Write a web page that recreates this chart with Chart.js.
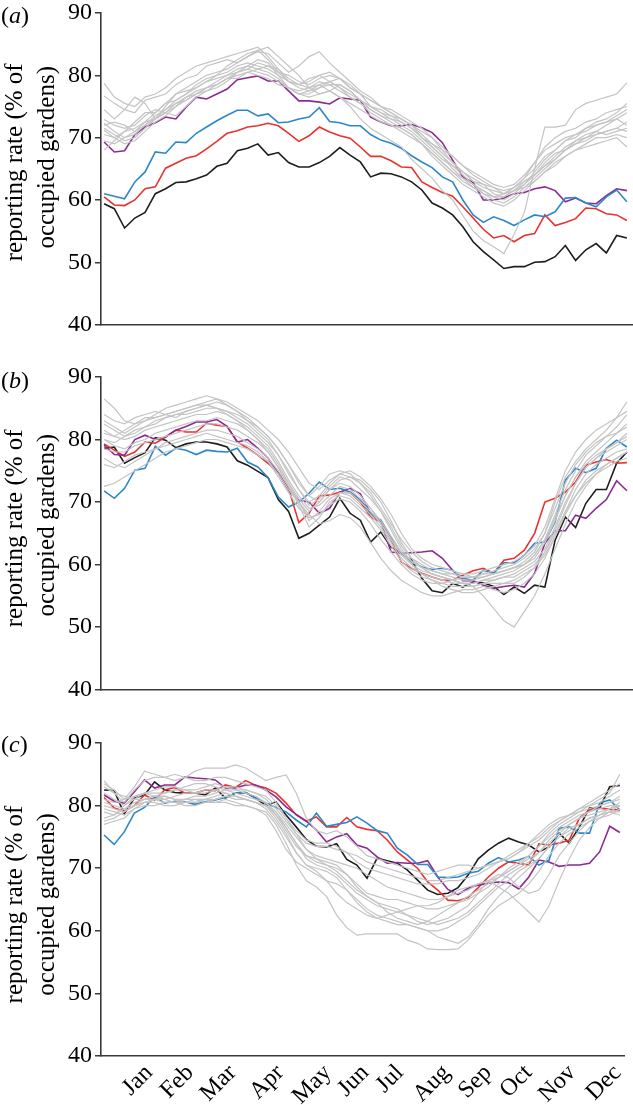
<!DOCTYPE html>
<html><head><meta charset="utf-8">
<script src="https://cdn.jsdelivr.net/npm/chart.js@4.4.1/dist/chart.umd.min.js"></script>
<style>
html,body{margin:0;padding:0;background:#fff;width:633px;height:1105px;overflow:hidden;position:relative}
canvas{position:absolute;left:0}
.lab{position:absolute;left:1px;font-family:'Liberation Serif',serif;font-size:24px;line-height:24px;color:#000}
</style></head><body>
<canvas id="ca" width="633" height="349" style="top:-7px"></canvas>
<canvas id="cb" width="633" height="350" style="top:357px"></canvas>
<canvas id="cc" width="633" height="382" style="top:723px"></canvas>
<div class="lab" style="top:3px">(<i>a</i>)</div>
<div class="lab" style="top:368px">(<i>b</i>)</div>
<div class="lab" style="top:732px">(<i>c</i>)</div>
<script>
const weeks = Array.from({length:52},(_,i)=>i+1);
const months = ['Jan','Feb','Mar','Apr','May','Jun','Jul','Aug','Sep','Oct','Nov','Dec'];
const monthPos = [5.44,9.51,13.71,18.42,23.12,26.83,30.26,34.86,38.96,42.98,47.28,51.78];
const yTicks = [40,50,60,70,80,90];
const yTitle = ['reporting rate (% of','occupied gardens)'];

// Panel (a)
const blackA = [59.4,58.6,55.5,57.1,58.0,61.0,61.8,62.8,62.9,63.4,64.0,65.4,65.9,67.9,68.3,69.0,67.2,67.6,66.0,65.3,65.3,66.0,67.0,68.4,67.2,66.1,63.7,64.3,64.2,63.7,62.9,61.6,59.5,58.7,57.6,55.7,53.3,51.7,50.4,49.0,49.3,49.3,50.0,50.1,50.9,52.7,50.3,52.0,53.0,51.5,54.3,53.9];
const redA = [60.5,59.2,59.1,60.0,61.8,62.1,65.1,65.9,66.7,67.1,68.2,69.4,70.7,71.1,71.7,71.9,72.3,71.9,70.7,69.4,70.3,71.7,70.9,70.3,69.9,68.5,67.0,67.0,66.3,65.3,65.2,62.9,62.0,61.2,60.6,58.9,57.1,55.3,53.9,54.3,53.3,54.3,54.6,57.6,55.9,56.4,57.0,58.7,58.6,57.8,57.6,56.7];
const blueA = [61.0,60.6,60.2,62.9,64.5,67.7,67.5,69.3,69.2,70.7,71.7,72.7,73.6,74.4,74.4,73.5,73.8,72.4,72.5,73.0,73.3,74.8,72.6,72.4,71.9,71.9,70.5,69.6,69.1,68.3,67.1,66.1,65.2,63.7,62.9,60.0,57.6,56.4,57.3,56.7,55.9,56.8,57.6,57.3,58.1,60.3,60.4,59.5,58.9,60.5,61.6,59.7];
const purpleA = [69.3,67.7,67.9,70.5,71.7,72.4,73.3,73.0,74.9,76.5,76.2,77.0,77.8,79.3,79.6,79.9,79.1,79.1,77.5,75.9,75.9,75.7,75.4,76.4,76.2,76.0,73.3,72.5,71.9,71.9,72.1,71.6,70.8,69.2,66.4,63.7,62.8,60.0,60.0,60.3,61.0,61.2,61.8,62.1,61.5,59.7,60.3,59.5,59.4,60.7,61.8,61.5];
const greyA = [
[78.7,76.5,75.5,75.0,76.5,77.0,78.0,79.5,80.5,81.5,82.0,82.5,83.0,83.5,84.0,84.5,83.0,81.0,79.0,78.5,79.0,80.0,80.5,79.5,78.0,77.0,76.0,75.0,74.5,73.5,72.5,71.5,70.0,68.5,67.0,65.5,64.0,63.0,62.0,61.0,61.5,62.5,64.0,66.0,67.5,68.0,69.5,70.5,71.0,72.0,73.0,74.0],
[76.7,75.5,74.5,74.0,76.0,76.5,77.0,78.5,79.5,80.0,81.5,82.0,82.5,82.0,83.0,83.8,83.5,82.0,80.5,81.5,83.0,83.8,82.0,80.5,79.0,77.5,76.5,75.0,74.0,73.0,72.0,70.5,69.0,67.5,66.0,64.5,63.0,62.0,61.5,61.0,62.0,63.5,65.0,67.0,68.0,69.5,70.0,71.5,72.0,72.5,73.0,72.0],
[72.9,72.0,71.5,72.0,73.5,74.5,74.0,73.5,75.0,76.5,77.5,78.0,79.0,80.5,81.0,82.0,81.5,80.5,79.0,78.0,77.5,78.0,79.0,79.5,78.5,77.0,75.0,74.0,73.0,72.5,71.5,70.0,68.5,67.0,65.5,64.5,63.5,62.5,61.0,60.5,61.5,63.0,64.0,65.5,66.5,68.0,69.0,70.0,70.5,71.0,71.5,72.5],
[72.3,71.0,70.0,70.5,72.0,73.0,74.0,75.0,76.0,77.0,78.0,78.5,79.5,80.5,81.5,81.0,80.5,79.5,78.0,77.0,77.5,78.5,79.0,78.0,77.0,76.0,74.5,73.5,73.0,72.0,71.0,69.5,68.0,66.5,65.5,64.0,62.5,61.0,60.0,59.5,60.5,62.0,63.5,65.0,66.5,68.0,69.0,69.5,70.5,71.0,71.5,71.0],
[71.5,70.5,69.5,70.0,71.5,73.0,74.5,76.0,77.0,78.0,79.0,79.5,80.0,81.0,81.5,82.5,82.0,80.0,78.0,77.5,78.0,79.0,78.5,77.5,76.5,75.5,74.0,73.0,72.0,71.5,70.5,69.0,67.5,66.0,64.5,63.5,62.5,61.5,60.5,60.0,61.0,62.5,64.5,66.5,68.0,69.5,70.5,71.0,72.0,72.5,73.5,74.5],
[71.2,70.0,69.0,69.5,71.0,72.5,73.5,75.0,76.5,77.5,78.0,79.0,80.0,80.5,81.0,80.5,80.0,79.0,78.0,77.0,77.0,78.0,78.5,78.5,77.5,76.0,75.0,74.5,73.5,73.0,72.0,70.0,68.5,67.0,65.0,63.5,62.0,61.5,60.5,61.0,62.0,63.0,64.0,65.5,67.0,68.5,69.5,70.0,71.0,70.5,71.0,71.5],
[74.5,73.0,74.5,76.5,75.5,73.0,75.0,77.0,78.0,79.0,80.0,80.5,81.0,82.0,83.0,84.0,84.5,83.0,81.5,80.0,78.0,77.0,77.5,78.5,77.5,76.0,75.0,74.0,73.5,72.5,71.5,70.0,69.0,68.0,67.0,65.5,64.5,63.5,62.5,62.0,62.5,64.0,66.0,68.0,69.0,70.0,70.5,71.5,72.5,73.0,74.0,75.5],
[68.0,69.5,71.0,71.5,72.5,73.0,74.0,75.5,76.5,77.0,78.0,78.5,79.5,80.0,80.5,81.0,81.5,81.0,79.5,78.5,78.0,78.5,77.5,76.5,75.0,73.0,71.5,70.5,69.5,68.5,66.5,65.0,63.5,61.5,60.0,57.5,55.0,53.5,52.5,51.4,54.5,58.0,65.0,71.7,71.7,72.0,74.5,75.5,76.0,76.5,77.0,78.8],
[70.5,70.0,71.0,72.5,74.0,74.0,75.5,76.0,77.0,78.5,79.5,80.0,80.5,81.5,82.0,81.5,81.0,80.0,79.0,78.5,79.5,80.0,79.0,78.0,76.5,75.5,74.5,73.5,72.5,71.5,70.5,69.0,67.5,66.0,64.5,63.0,62.0,61.0,60.5,60.5,61.5,62.0,63.0,64.5,66.0,67.0,68.0,69.0,70.0,70.0,70.5,70.0],
[69.5,69.0,70.0,71.0,72.0,73.5,74.5,75.5,76.0,77.0,77.5,78.5,79.5,79.5,80.5,80.0,79.5,78.5,78.0,77.0,76.5,77.0,77.5,76.5,75.5,74.5,73.5,72.5,72.0,71.0,70.0,69.0,67.0,65.5,64.0,62.5,61.5,60.5,59.5,59.0,60.0,61.5,63.0,64.5,65.5,67.0,68.0,68.5,69.0,69.5,70.0,68.5],
[72.0,72.5,72.0,71.0,72.5,74.0,75.5,77.0,77.5,78.0,79.0,80.0,81.5,82.5,83.5,84.0,82.5,80.5,80.0,79.0,78.5,79.5,80.0,79.5,78.0,77.0,76.0,75.0,74.0,73.0,72.0,71.0,70.0,68.0,66.0,64.5,63.0,62.5,62.0,61.5,62.0,63.5,66.0,68.5,70.0,71.0,71.5,72.5,73.0,74.0,74.5,75.0]
];

// Panel (b)
const blackB = [78.6,78.8,76.2,77.1,77.9,80.3,79.9,78.7,79.3,79.6,79.6,79.3,78.8,76.6,75.9,74.9,73.9,70.4,68.5,64.2,65.0,66.3,67.6,70.6,68.2,67.1,63.6,65.2,62.8,61.8,60.7,57.8,55.8,55.5,57.0,56.4,57.2,57.1,56.5,55.2,56.4,55.4,56.7,56.4,63.9,67.6,65.9,69.8,72.0,72.0,76.2,78.0];
const redB = [79.3,78.3,77.3,78.0,79.6,79.4,80.4,81.5,81.2,81.2,82.6,82.3,82.1,79.6,78.6,77.5,76.2,74.6,72.2,66.7,68.2,71.0,71.1,71.6,71.5,70.0,67.6,66.8,63.9,60.4,59.4,58.6,58.0,57.5,57.5,58.3,59.0,59.4,58.6,60.7,61.0,62.3,65.0,70.0,70.6,71.6,73.2,75.9,76.4,76.8,76.2,76.3];
const blueB = [71.8,70.6,72.2,75.1,75.4,78.9,77.5,78.6,78.3,77.6,78.3,78.1,78.0,78.6,76.4,75.6,73.9,70.8,69.2,70.0,71.4,73.2,72.0,72.2,71.6,70.4,68.2,67.1,64.4,61.8,60.4,59.6,59.2,59.4,59.1,57.8,57.5,59.1,58.6,60.3,60.3,61.5,63.4,63.6,66.8,73.5,75.4,74.7,75.4,78.6,79.9,78.8];
const purpleB = [79.1,77.6,77.5,80.0,80.7,80.0,80.4,81.5,82.1,82.8,82.8,83.2,82.1,79.6,80.0,78.6,77.0,74.6,71.9,70.3,70.0,68.2,69.0,71.6,72.2,71.3,68.2,66.8,62.0,61.8,61.9,62.0,62.2,61.0,59.1,57.4,57.4,56.7,56.2,56.5,56.7,56.4,58.6,63.4,65.4,65.4,67.9,67.4,69.0,70.4,73.4,71.8];
const greyB = [
[86.5,85.0,83.0,82.5,83.0,83.5,84.0,84.5,85.0,85.5,86.0,86.5,86.0,85.0,84.0,83.0,81.5,80.0,78.0,75.5,73.0,72.0,73.5,74.5,74.0,73.0,71.5,69.0,66.5,64.0,62.0,60.5,59.5,59.0,58.5,58.5,58.0,58.0,58.5,59.0,59.5,60.5,62.0,65.0,70.0,74.0,76.5,78.5,80.0,81.5,83.5,86.0],
[84.0,83.0,82.5,83.5,84.0,84.5,84.0,83.5,84.5,85.0,85.5,86.0,85.5,84.5,83.5,82.0,80.5,78.5,76.0,73.5,71.0,70.0,72.0,73.5,74.0,73.5,72.0,70.0,67.0,63.5,61.0,60.0,59.0,58.5,58.0,57.5,57.5,58.0,58.5,59.0,59.5,60.0,61.5,64.0,68.0,72.0,75.0,77.5,79.0,80.5,82.0,84.0],
[82.5,81.5,80.5,81.0,82.0,82.5,83.5,84.0,84.0,84.5,85.0,85.0,84.5,83.5,82.5,81.0,79.5,77.5,75.0,72.0,69.5,70.5,72.5,74.0,73.5,72.0,70.5,68.5,66.0,63.0,61.0,59.5,58.5,58.0,57.5,57.0,57.0,57.5,58.0,58.5,59.0,60.0,61.0,63.5,67.0,71.0,74.0,76.5,78.0,79.5,81.0,82.5],
[81.0,80.5,80.0,80.5,81.5,82.0,82.5,83.0,83.5,84.0,84.0,84.5,84.0,83.0,82.0,80.5,79.0,76.5,73.5,71.0,69.0,69.5,71.0,72.5,72.0,70.5,69.0,67.0,64.5,62.0,60.5,59.5,58.5,58.0,57.5,57.0,56.5,57.0,57.5,58.0,58.0,59.0,60.0,62.0,65.5,69.5,73.0,75.5,77.0,78.5,79.5,81.0],
[80.0,79.0,78.5,79.5,80.0,81.0,81.5,82.0,82.5,83.0,83.0,83.5,83.0,82.5,81.5,80.0,78.5,76.0,73.0,70.0,67.0,68.5,70.5,71.5,71.0,69.5,68.0,66.0,63.5,61.0,59.5,58.5,58.0,57.5,57.0,57.0,57.0,57.5,57.5,58.0,58.5,59.5,60.5,62.5,66.0,70.0,73.0,75.5,77.0,78.0,79.0,80.0],
[78.5,78.0,78.0,79.0,79.5,80.0,80.5,81.0,81.5,82.0,82.5,82.5,82.0,81.5,80.5,79.5,78.0,75.5,72.5,69.5,66.0,67.5,70.0,71.0,70.5,69.0,67.5,65.5,63.0,60.5,59.0,58.0,57.5,57.0,56.5,56.5,56.5,57.0,57.0,57.0,57.5,58.5,59.5,61.5,64.5,68.5,72.0,74.5,76.0,77.0,78.0,78.5],
[76.0,75.5,76.5,77.5,78.0,78.5,79.0,79.5,80.0,80.5,81.0,80.5,80.0,79.5,79.0,78.0,76.5,74.0,71.5,69.0,67.5,68.0,69.5,70.5,70.0,68.5,66.5,64.0,62.0,60.0,58.5,57.5,57.0,57.0,57.5,58.0,58.0,58.5,58.5,59.0,59.5,60.0,61.5,64.0,67.5,71.0,74.0,76.0,77.5,78.5,79.5,80.5],
[72.5,73.0,74.0,75.0,76.0,77.0,78.0,78.5,79.0,79.5,80.0,80.0,79.5,79.0,78.5,77.5,76.5,74.5,72.0,70.0,68.0,66.5,67.0,68.0,67.5,66.0,63.5,61.0,59.0,57.5,56.5,55.5,55.0,55.0,55.5,56.0,56.0,56.5,56.0,55.5,56.0,57.0,58.5,61.0,64.5,68.0,71.0,73.5,75.0,76.0,77.0,78.0],
[80.0,79.5,80.5,81.5,82.0,83.0,83.5,84.0,84.5,85.0,85.5,85.0,84.0,83.0,81.5,80.0,78.0,75.5,73.0,70.5,68.5,70.0,72.0,73.0,72.5,71.0,69.0,66.5,64.0,61.5,60.0,59.0,58.5,58.0,57.5,57.0,56.5,55.0,53.0,51.0,50.0,52.5,55.0,58.5,62.5,66.5,70.0,72.5,74.5,76.0,77.0,78.0],
[83.0,82.0,81.0,82.0,83.0,84.0,85.0,85.5,86.0,86.5,87.0,86.5,85.5,84.5,83.0,81.5,80.0,77.5,74.5,72.0,70.0,71.0,73.0,74.5,75.0,74.0,72.5,70.5,68.0,65.0,62.5,61.0,60.0,59.5,59.0,58.5,58.5,59.0,59.5,60.0,60.5,61.5,63.0,66.0,70.5,75.0,78.0,80.0,81.5,82.5,83.5,84.5],
[77.0,76.0,75.5,76.5,77.5,78.5,79.5,80.0,80.5,81.0,81.5,81.5,81.0,80.5,79.5,78.5,77.0,75.0,72.5,70.0,67.5,68.0,69.5,71.5,71.5,70.0,68.5,66.5,64.0,62.0,60.0,58.5,57.5,56.5,56.0,55.5,55.5,56.0,56.5,57.0,57.0,58.0,59.5,62.0,65.0,68.5,71.0,73.0,74.5,75.5,76.5,77.0],
[81.5,80.5,81.5,82.5,83.5,83.5,84.0,84.5,85.0,85.5,85.5,85.0,84.5,84.0,83.0,82.0,80.5,78.5,76.0,73.0,71.0,72.5,74.5,75.0,74.5,73.0,71.0,68.5,65.5,62.5,60.5,59.5,59.0,58.5,58.5,58.0,58.0,58.5,59.0,59.5,60.0,61.0,62.5,65.0,69.0,73.0,76.0,78.0,79.5,80.5,81.0,82.0]
];

// Panel (c)
const blackC = [82.5,82.4,78.7,81.2,81.7,83.8,82.5,82.1,82.0,82.0,81.7,82.8,81.2,82.0,82.1,81.2,80.0,80.6,78.5,76.6,74.6,73.5,73.4,73.9,71.4,70.5,68.4,71.6,71.2,70.8,69.7,68.1,66.5,65.8,66.0,66.9,68.9,71.5,72.9,74.0,74.8,74.2,73.7,72.6,73.4,75.6,74.0,76.6,79.6,79.6,83.0,83.2];
const redC = [81.3,79.6,79.1,80.0,81.7,80.9,82.5,82.9,82.0,82.0,82.5,82.4,83.3,82.9,84.0,83.2,82.8,82.0,80.4,78.5,77.5,78.2,76.6,76.6,78.1,76.6,76.2,76.0,74.5,72.6,71.3,70.0,67.8,66.5,64.9,64.8,65.3,66.9,68.6,70.0,71.0,70.8,70.5,73.9,73.7,74.0,74.5,78.0,79.3,79.6,79.4,79.3];
const blueC = [75.3,73.8,75.8,78.8,79.7,81.4,80.4,80.7,80.6,80.2,80.6,80.9,81.3,82.0,82.1,81.2,80.4,79.7,79.0,77.7,76.6,78.8,76.7,77.0,77.3,78.2,77.2,76.0,75.6,73.2,72.1,70.6,70.6,68.6,68.5,68.6,69.2,69.5,70.8,71.7,71.0,71.3,71.9,70.5,71.3,76.4,76.6,75.6,75.6,80.4,80.9,79.3];
const purpleC = [81.7,80.7,80.4,82.2,84.1,82.8,83.3,83.3,84.6,84.4,84.3,84.1,82.8,82.8,83.3,83.3,82.5,81.4,79.8,78.6,77.5,76.1,74.2,75.0,75.5,73.7,73.2,71.8,70.8,70.9,70.8,70.8,71.2,68.6,66.6,65.8,66.8,67.3,67.6,67.8,67.7,66.7,68.6,71.3,71.0,70.3,70.5,70.5,70.8,72.6,76.7,75.7];
const greyC = [
[83.5,82.5,81.0,83.0,85.5,85.0,84.5,84.0,84.5,85.5,86.0,86.0,86.0,86.5,86.0,85.0,84.0,84.5,84.9,82.0,78.0,76.0,75.5,76.0,75.0,73.5,72.0,71.5,71.0,70.5,70.0,69.5,69.0,69.5,70.0,70.5,70.5,70.0,70.5,71.0,71.5,72.5,74.0,75.5,77.0,78.0,78.5,79.5,80.5,81.5,82.5,83.5],
[84.0,82.0,80.5,82.5,84.0,84.5,84.5,85.0,84.5,84.0,84.0,84.5,84.5,84.0,83.5,83.0,82.5,80.5,78.0,76.0,74.5,74.0,74.0,73.5,72.5,71.0,70.0,69.5,69.0,68.5,68.0,67.5,67.5,67.5,68.0,68.0,68.5,69.0,70.0,71.0,72.0,73.0,74.0,75.0,76.5,77.5,78.5,79.5,80.0,81.0,82.0,85.0],
[82.0,81.0,80.0,81.0,82.0,82.5,83.0,83.0,82.5,82.5,83.0,83.5,83.0,82.5,82.5,82.0,81.5,80.0,78.0,75.5,73.0,71.5,70.5,70.0,69.0,67.5,66.0,65.5,65.0,65.0,64.5,64.0,63.5,63.5,64.0,64.5,65.0,66.0,67.0,68.5,70.0,71.0,72.0,73.5,75.0,76.5,77.5,78.5,79.0,80.0,80.5,81.0],
[80.0,79.5,79.0,80.0,81.0,81.5,81.5,81.0,81.0,81.5,81.5,82.0,82.5,82.0,81.5,81.0,80.5,79.0,76.5,74.0,71.5,70.5,70.0,69.0,67.5,66.0,65.0,64.0,63.5,63.0,62.5,62.0,61.5,61.0,61.5,62.0,63.0,64.5,66.0,67.5,69.0,70.0,71.0,72.5,74.5,76.0,77.0,78.0,78.5,79.0,79.5,80.5],
[79.0,78.5,79.5,80.5,81.0,81.0,80.5,80.5,81.0,81.0,80.5,81.0,81.5,81.0,81.0,80.5,80.0,78.0,75.5,72.5,70.5,70.0,69.5,68.5,66.5,64.5,63.0,62.0,61.5,61.0,61.0,60.5,60.0,60.0,60.5,61.5,62.5,64.0,65.5,67.0,68.0,69.5,70.5,71.5,73.5,75.0,76.5,77.0,78.0,78.5,79.0,79.0],
[77.0,77.5,78.0,79.5,80.0,80.0,80.5,80.5,80.0,80.0,80.5,80.5,81.0,80.5,80.0,79.5,79.0,77.0,74.0,70.5,68.0,67.0,65.5,62.5,60.5,59.3,59.5,59.5,59.5,59.5,58.5,58.0,57.1,57.0,57.0,57.1,58.5,60.5,62.5,64.0,65.0,66.0,67.5,69.5,72.0,74.0,75.5,76.5,77.5,78.0,78.5,79.5],
[78.0,78.5,80.0,81.5,82.0,81.5,81.0,81.5,82.0,82.0,82.5,82.5,82.0,81.5,81.0,80.5,80.0,78.5,76.0,73.5,72.0,71.5,71.0,70.5,69.0,67.0,65.5,64.5,64.0,63.5,62.5,61.5,61.0,61.5,62.0,63.0,64.0,66.0,68.0,69.0,68.5,67.0,66.0,66.5,69.0,72.0,74.0,76.0,77.5,78.5,79.5,80.0],
[79.5,79.0,78.5,79.5,80.5,81.0,81.5,81.0,80.5,80.5,81.0,81.5,82.0,81.5,81.0,80.5,79.5,77.5,75.0,72.5,70.5,69.5,68.0,66.0,64.5,63.5,62.5,62.0,62.5,63.0,63.5,64.0,64.0,64.5,65.5,66.5,67.0,67.5,68.0,67.0,66.0,64.5,63.0,61.4,64.0,68.0,71.5,74.5,76.5,78.0,79.0,80.0],
[81.0,80.5,81.0,81.5,82.0,82.0,82.0,82.5,82.5,82.0,82.0,82.5,83.0,83.0,82.5,82.0,81.0,79.5,77.5,75.5,74.0,73.5,73.5,73.0,72.5,72.0,71.0,70.5,70.0,69.5,69.0,68.5,68.0,68.0,68.5,69.0,69.5,70.0,70.5,71.0,71.5,72.5,73.5,74.5,76.0,77.5,78.5,79.0,79.5,80.0,80.5,81.5],
[77.5,78.0,79.0,80.0,80.5,80.5,80.0,80.0,80.5,81.0,81.0,80.5,80.5,80.0,80.0,79.5,78.5,76.0,73.0,71.0,70.0,69.0,68.0,67.5,66.5,65.0,63.5,62.5,62.0,61.5,61.0,60.5,60.0,59.0,58.5,58.0,59.0,61.0,63.5,65.5,67.0,68.5,70.0,71.5,73.5,75.0,76.0,77.0,78.0,78.5,79.0,78.5],
[83.0,82.0,81.5,81.0,81.0,81.5,82.0,82.5,83.0,83.5,83.5,83.0,82.5,82.5,82.0,81.5,80.5,78.5,76.5,74.0,72.0,71.0,70.5,69.5,68.0,66.5,65.5,64.5,63.0,62.0,61.5,61.0,61.5,62.5,63.5,64.5,65.5,66.5,67.5,68.5,69.5,70.5,72.0,73.5,75.5,77.0,78.0,79.0,80.0,80.5,81.5,82.5],
[80.5,80.0,79.5,80.0,80.5,81.0,81.0,80.5,80.5,80.5,81.0,81.0,81.5,81.5,81.0,80.5,80.0,79.0,77.0,75.0,73.0,72.0,71.5,71.0,70.5,70.0,69.0,68.0,67.0,66.5,66.0,65.5,65.0,65.0,65.5,66.0,66.5,67.5,68.0,68.5,69.5,70.5,71.5,72.5,74.0,75.5,77.0,78.0,79.0,79.5,80.0,80.0]
];

const COLORS = {grey:'#c4c4c4', blue:'#2c87c8', purple:'#8b2a90', red:'#e8322e', black:'#1e1e1e'};
const AXIS = '#3a3a3a';
const SERIF = "'Liberation Serif', 'Times New Roman', serif";
// vertical nudge of each y-title line relative to the plot centre, per panel
const titleShift = {ca: [-6.5, -11.5], cb: [-5, -8], cc: [5, 5]};

const yTitlePlugin = {
  id: 'yTitleLines',
  afterDraw(chart) {
    const {ctx, chartArea} = chart;
    const sh = titleShift[chart.canvas.id];
    const cy = (chartArea.top + chartArea.bottom) / 2;
    const xs = [15, 47.5];
    ctx.save();
    ctx.font = "25px " + SERIF;
    ctx.fillStyle = '#000';
    ctx.textAlign = 'center';
    ctx.textBaseline = 'middle';
    yTitle.forEach((t, i) => {
      ctx.save();
      ctx.translate(xs[i], cy + sh[i]);
      ctx.rotate(-Math.PI / 2);
      ctx.fillText(t, 0, 0);
      ctx.restore();
    });
    ctx.restore();
  }
};

function series(vals, color, width) {
  return {data: vals.map((v,i)=>({x:weeks[i], y:v})), borderColor: color, borderWidth: width,
          pointRadius: 0, tension: 0, fill: false};
}

function makePanel(id, greys, blue, purple, red, black, showX, xHeight, padBottom) {
  const ds = [];
  greys.forEach(g => ds.push(series(g, COLORS.grey, 1.2)));
  ds.push(series(blue, COLORS.blue, 1.6));
  ds.push(series(purple, COLORS.purple, 1.6));
  ds.push(series(red, COLORS.red, 1.6));
  ds.push(series(black, COLORS.black, 1.6));
  return new Chart(document.getElementById(id), {
    type: 'line',
    data: {datasets: ds},
    plugins: [yTitlePlugin],
    options: {
      responsive: false, animation: false, devicePixelRatio: 1,
      layout: {padding: {top: 20, left: 0, right: 1, bottom: padBottom}},
      plugins: {legend: {display: false}, tooltip: {enabled: false}},
      scales: {
        x: {type: 'linear', bounds: 'data', min: 0.7, max: 52.5,
            afterFit: s => { s.height = xHeight; },
            afterBuildTicks: s => { s.ticks = showX ? monthPos.map(v => ({value: v})) : []; },
            grid: {display: false},
            border: {display: true, color: AXIS, width: 1.6},
            ticks: {display: showX, autoSkip: false, maxRotation: 45, minRotation: 45, padding: -5,
                    font: {family: SERIF, size: 24, lineHeight: 1.2}, color: '#000',
                    callback: (v, i) => months[i]}},
        y: {min: 40, max: 90,
            afterFit: s => { s.width = 101; },
            afterBuildTicks: s => { s.ticks = yTicks.map(v => ({value: v})); },
            ticks: {font: {family: SERIF, size: 24}, color: '#000', padding: 3},
            grid: {drawOnChartArea: false, drawTicks: true, tickLength: 6, color: AXIS, lineWidth: 1.5},
            border: {display: true, color: AXIS, width: 1.6},
            title: {display: false}}
      }
    }
  });
}

makePanel('ca', greyA, blueA, purpleA, redA, blackA, false, 2, 15);
makePanel('cb', greyB, blueB, purpleB, redB, blackB, false, 2, 15);
makePanel('cc', greyC, blueC, purpleC, redC, blackC, true, 49, 0);
</script>
</body></html>
